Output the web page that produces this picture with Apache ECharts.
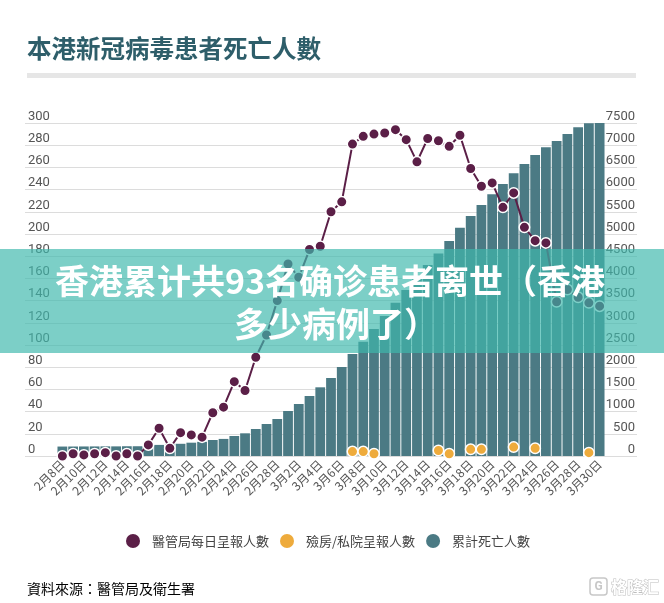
<!DOCTYPE html>
<html><head><meta charset="utf-8">
<script src="https://cdn.jsdelivr.net/npm/echarts@6/dist/echarts.min.js"></script>
<style>html,body{margin:0;padding:0;background:#fff}#c{width:664px;height:603px}</style>
</head><body><div id="c"></div>
<script>
const categories = ['2月8日','2月9日','2月10日','2月11日','2月12日','2月13日','2月14日','2月15日','2月16日','2月17日','2月18日','2月19日','2月20日','2月21日','2月22日','2月23日','2月24日','2月25日','2月26日','2月27日','2月28日',
'3月1日','3月2日','3月3日','3月4日','3月5日','3月6日','3月7日','3月8日','3月9日','3月10日','3月11日','3月12日','3月13日','3月14日','3月15日','3月16日','3月17日','3月18日','3月19日','3月20日','3月21日','3月22日','3月23日','3月24日','3月25日','3月26日','3月27日','3月28日','3月29日','3月30日'];
const haDaily = [0,2,1,2,3,0,2,0,10,25,7,21,19,17,39,44,67,59,89,109,140,
173,161,186,189,220,229,281,288,290,291,294,285,265,286,284,279,289,259,243,246,224,237,206,194,192,139,150,143,138,135];
const mortuaryDaily = [null,null,null,null,null,null,null,null,null,null,null,null,null,null,null,null,null,null,null,null,null,
null,null,null,null,null,null,4,4,2,null,null,null,null,null,5,2,null,6,6,null,null,8,null,7,null,null,null,null,3,null];
const cumulative = [213,214,215,216,217,217,220,220,230,250,262,275,300,320,360,385,450,511,608,721,833,
1013,1171,1351,1547,1757,2004,2297,2574,2860,3153,3452,3738,4031,4300,4560,4842,5142,5405,5652,5893,6125,6366,6576,6779,6952,7094,7251,7402,7495,7500];
const leftAxis = {min:0, max:300, interval:20};
const rightAxis = {min:0, max:7500, interval:500};

const TC = '"Noto Sans CJK TC", "Noto Sans", sans-serif';
const NUM = 'Roboto, "Noto Sans", sans-serif';
const PURPLE = '#5b1f47', ORANGE = '#eeab3c', TEAL = '#4b7a84';

const chart = echarts.init(document.getElementById('c'), null, {renderer:'canvas'});
chart.setOption({
  animation: false,
  backgroundColor: '#fff',
  title: {
    text: '本港新冠病毒患者死亡人數', left: 27, top: 36, padding: 0,
    textStyle: {fontSize: 24.5, fontWeight: 'bold', color: '#2e5e6a', fontFamily: TC}
  },
  legend: {
    left: 121, top: 529, itemWidth: 14, itemHeight: 14, itemGap: 11, icon: 'circle',
    textStyle: {fontSize: 13, color: '#444', fontFamily: TC, padding: [0,0,0,7]},
    data: [
      {name: '醫管局每日呈報人數', itemStyle: {color: PURPLE, borderWidth: 0}},
      {name: '殮房/私院呈報人數', itemStyle: {color: ORANGE, borderWidth: 0}},
      {name: '累計死亡人數', itemStyle: {color: TEAL, borderWidth: 0}}
    ]
  },
  grid: [
    {left: 25, right: 27, top: 123, bottom: 147},
    {left: 57, right: 59, top: 123, bottom: 147}
  ],
  xAxis: [
    {gridIndex: 0, type: 'category', data: categories, show: false},
    {gridIndex: 1, type: 'category', data: categories, boundaryGap: true,
     axisLine: {show: false}, axisTick: {show: false},
     axisLabel: {interval: 1, rotate: 45, fontSize: 12, color: '#555', margin: 6, fontFamily: TC}}
  ],
  yAxis: [
    {gridIndex: 0, type: 'value', position: 'left', min: leftAxis.min, max: leftAxis.max, interval: leftAxis.interval,
     axisLine: {show: false}, axisTick: {show: false},
     splitLine: {show: true, lineStyle: {color: '#dcdcdc', width: 1}},
     axisLabel: {inside: true, margin: 3, verticalAlign: 'bottom', color: '#555', fontSize: 13, fontFamily: NUM}},
    {gridIndex: 0, type: 'value', position: 'right', min: rightAxis.min, max: rightAxis.max, interval: rightAxis.interval,
     axisLine: {show: false}, axisTick: {show: false}, splitLine: {show: false},
     axisLabel: {inside: true, margin: 2, verticalAlign: 'bottom', color: '#555', fontSize: 13, fontFamily: NUM,
       formatter: function (v) { return String(v); }}},
    {gridIndex: 1, type: 'value', min: leftAxis.min, max: leftAxis.max, interval: leftAxis.interval, show: false},
    {gridIndex: 1, type: 'value', min: rightAxis.min, max: rightAxis.max, interval: rightAxis.interval, show: false}
  ],
  series: [
    {name: '累計死亡人數', type: 'bar', xAxisIndex: 1, yAxisIndex: 3, data: cumulative,
     barCategoryGap: '9%', itemStyle: {color: TEAL}, z: 2},
    {name: '醫管局每日呈報人數', type: 'line', xAxisIndex: 1, yAxisIndex: 2, data: haDaily,
     symbol: 'circle', symbolSize: 10.5, showAllSymbol: true,
     lineStyle: {color: PURPLE, width: 2},
     itemStyle: {color: PURPLE, borderColor: '#fff', borderWidth: 1.5}, z: 3},
    {name: '殮房/私院呈報人數', type: 'scatter', xAxisIndex: 1, yAxisIndex: 2, data: mortuaryDaily,
     symbol: 'circle', symbolSize: 10.5,
     itemStyle: {color: ORANGE, borderColor: '#fff', borderWidth: 1.5, opacity: 1}, z: 4}
  ],
  graphic: [
    {type: 'rect', shape: {x: 27, y: 73, width: 609, height: 5}, style: {fill: '#e6e6e6'}, z: 1},
    {type: 'text', x: 27, y: 589, z: 1,
     style: {text: '{a|資料來源：}{b|醫管局及衛生署}', textVerticalAlign: 'middle',
       rich: {a: {fontSize: 14, color: '#666', fontFamily: TC}, b: {fontSize: 14, color: '#3a6c78', fontFamily: TC}}}},
    {type: 'rect', shape: {x: 590, y: 578, width: 17, height: 17, r: 3}, style: {fill: 'none', stroke: '#c8c8c8', lineWidth: 1.5}, z: 1},
    {type: 'text', x: 598.5, y: 587, z: 1, style: {text: 'G', fill: '#c8c8c8', font: 'bold 12px Roboto', textAlign: 'center', textVerticalAlign: 'middle'}},
    {type: 'text', x: 611, y: 587, z: 1, style: {text: '格隆汇', fill: '#fff', stroke: '#bdbdbd', lineWidth: 1, font: 'bold 16px "Noto Sans CJK SC"', textVerticalAlign: 'middle'}},
    {type: 'rect', shape: {x: 0, y: 249, width: 664, height: 104}, style: {fill: 'rgba(62,184,172,0.68)'}, z: 100},
    {type: 'text', x: 330, y: 281, z: 101, style: {text: '香港累计共93名确诊患者离世（香港', fill: '#fff', font: 'bold 34px "Noto Sans CJK SC"', textAlign: 'center', textVerticalAlign: 'middle'}},
    {type: 'text', x: 336, y: 324, z: 101, style: {text: '多少病例了）', fill: '#fff', font: 'bold 34px "Noto Sans CJK SC"', textAlign: 'center', textVerticalAlign: 'middle'}}
  ]
});
</script>
</body></html>
